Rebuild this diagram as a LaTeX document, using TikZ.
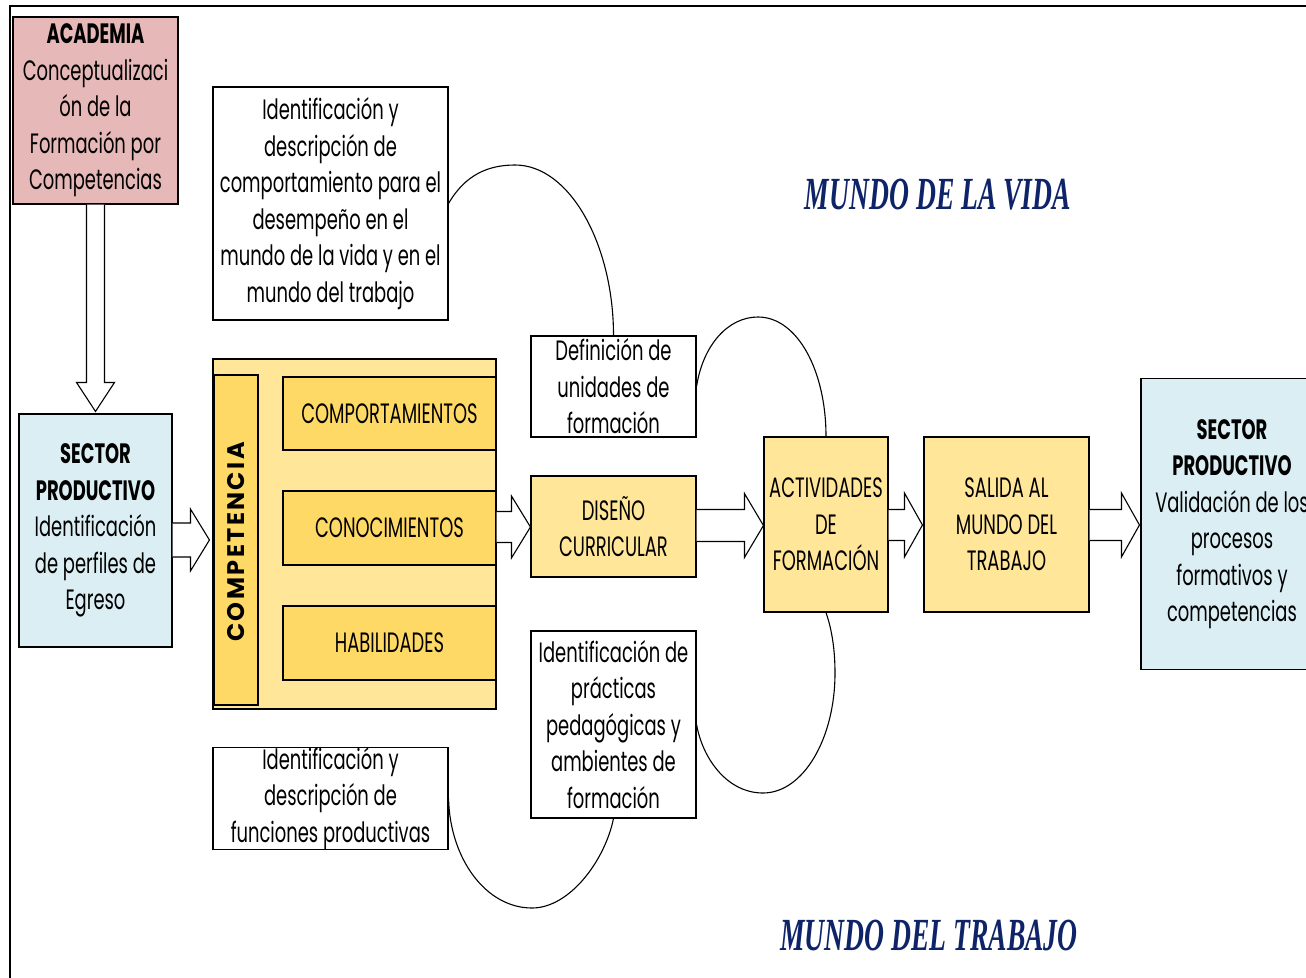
\documentclass[tikz,border=0pt]{standalone}
\usepackage{fontspec}
\setmainfont{Poppins}[FakeStretch=0.64]
\newfontfamily\widefont{Poppins}[LetterSpace=10]
\newfontfamily\mundofont{Liberation Serif}[FakeStretch=0.6]
\usetikzlibrary{calc}
\definecolor{pinkbox}{HTML}{E6B8B7}
\definecolor{bluebox}{HTML}{DAEEF3}
\definecolor{lightyel}{HTML}{FFE699}
\definecolor{darkyel}{HTML}{FFD966}
\definecolor{navy}{HTML}{0F2468}
\tikzset{
  box/.style={draw, line width=1.1pt, inner sep=0pt, align=center,
    font=\fontsize{28}{36.5}\selectfont},
  barrow/.style={draw, line width=1.1pt, fill=white, line join=miter},
  curve/.style={draw, line width=1.1pt},
  mundo/.style={text=navy, font=\mundofont\bfseries\itshape\fontsize{46}{50}\selectfont, inner sep=0pt}
}
% horizontal block arrow: #1 source node, #2 target node, #3 y centre,
% #4 shaft half height, #5 head half height, #6 head length, #7 gap before target
\newcommand{\hblock}[7]{%
  \path (#1.east |- 0,#3) coordinate (bs) (#2.west |- 0,#3) coordinate (bt);
  \draw[barrow] ($(bs)+(0,-#4)$) -- ($(bt)+(-#6-#7,-#4)$) -- ($(bt)+(-#6-#7,-#5)$)
    -- ($(bt)+(-#7,0)$) -- ($(bt)+(-#6-#7,#5)$) -- ($(bt)+(-#6-#7,#4)$) -- ($(bs)+(0,#4)$);
}
\begin{document}
\begin{tikzpicture}[x=1pt, y=-1pt]
\useasboundingbox (0,0) rectangle (1306,977);
\clip (0,0) rectangle (1306,977);
\fill[white] (0,0) rectangle (1306,977);
\draw[line width=1.2pt] (1310,6) -- (10,6) -- (10,980);

% boxes
\node[box, fill=pinkbox, minimum width=165, minimum height=187] (acad) at (95.5,110.5)
  {\textbf{ACADEMIA}\\Conceptualizaci\\ón de la\\Formación por\\Competencias};
\node[box, fill=bluebox, minimum width=153, minimum height=233] (secL) at (95.5,530.5)
  {\textbf{SECTOR}\\\textbf{PRODUCTIVO}\\Identificación\\de perfiles de\\Egreso};
\node[box, fill=lightyel, minimum width=283, minimum height=350] (comp) at (354.5,534) {};
\node[box, fill=darkyel, minimum width=44, minimum height=330] (compv) at (236,540) {};
\node[rotate=90, font=\widefont\bfseries\fontsize{24}{26}\selectfont, inner sep=0pt] (comptxt) at (236,542) {COMPETENCIA};
\node[box, fill=darkyel, minimum width=213, minimum height=73] (comport) at (389.5,413.5) {COMPORTAMIENTOS};
\node[box, fill=darkyel, minimum width=213, minimum height=74] (conoc) at (389.5,528) {CONOCIMIENTOS};
\node[box, fill=darkyel, minimum width=213, minimum height=74] (habil) at (389.5,643) {HABILIDADES};

\node[box, fill=white, minimum width=235, minimum height=233] (idtop) at (330.5,203.5)
  {Identificación y\\descripción de\\comportamiento para el\\desempeño en el\\mundo de la vida y en el\\mundo del trabajo};
\node[box, fill=white, minimum width=165, minimum height=101] (defin) at (613.5,386.5)
  {Definición de\\unidades de\\formación};
\node[box, fill=lightyel, minimum width=165, minimum height=101] (diseno) at (613.5,526.5)
  {DISEÑO\\CURRICULAR};
\node[box, fill=white, minimum width=165, minimum height=187] (pract) at (613.5,724.5)
  {Identificación de\\prácticas\\pedagógicas y\\ambientes de\\formación};
\node[box, fill=white, minimum width=235, minimum height=101] (func) at (330.5,798.5)
  {Identificación y\\descripción de\\funciones productivas};
\node[box, fill=lightyel, minimum width=124, minimum height=175] (activ) at (826,524.5)
  {ACTIVIDADES\\DE\\FORMACIÓN};
\node[box, fill=lightyel, minimum width=165, minimum height=175] (salida) at (1006.5,524.5)
  {SALIDA AL\\MUNDO DEL\\TRABAJO};
\node[box, fill=bluebox, minimum width=182, minimum height=291] (secR) at (1232,524)
  {\textbf{SECTOR}\\\textbf{PRODUCTIVO}\\Validación de los\\procesos\\formativos y\\competencias};

\node[mundo] (mvida) at (938,195) {MUNDO DE LA VIDA};
\node[mundo] (mtrab) at (929,935) {MUNDO DEL TRABAJO};

% vertical block arrow academia -> sector
\path (acad.south) coordinate (as) (secL.north) coordinate (at);
\draw[barrow] ($(as)+(-9,0)$) -- ($(at)+(-9,-31)$) -- ($(at)+(-19,-31)$) -- ($(at)+(0,-2)$)
  -- ($(at)+(19,-31)$) -- ($(at)+(9,-31)$) -- ($(as)+(9,0)$);

% horizontal block arrows
\hblock{secL}{comp}{540}{17}{31}{19}{3}
\hblock{comp}{diseno}{527}{15.5}{31}{19}{0}
\hblock{diseno}{activ}{525.5}{16}{32}{19}{0}
\hblock{activ}{salida}{525}{15.5}{32}{18}{1}
\hblock{salida}{secR}{525}{15.5}{32}{18}{1}

% curves
\draw[curve] (idtop.east) .. controls (465,175) and (488,165) .. (515,165)
  .. controls (570,165) and (613.5,245) .. (defin.north);
\draw[curve] (defin.east) .. controls (703,345) and (728,317) .. (758,317)
  .. controls (797,317) and (826,370) .. (activ.north);
\draw[curve] (activ.south) .. controls (832,630) and (835,650) .. (835,673)
  .. controls (835,739) and (803,793) .. (763,793)
  .. controls (728,793) and (703,760) .. (pract.east);
\draw[curve] (func.east) .. controls (450,859) and (486,908) .. (532,908)
  .. controls (570,908) and (605,860) .. (pract.south);
\end{tikzpicture}
\end{document}
